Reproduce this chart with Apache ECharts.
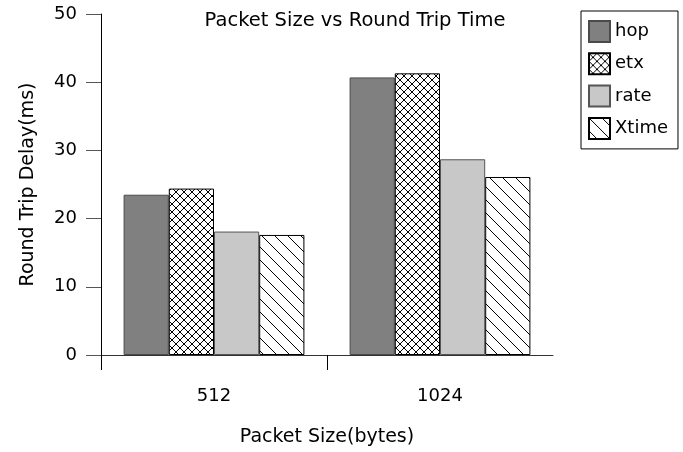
<!DOCTYPE html>
<html>
<head>
<meta charset="utf-8">
<script src="https://cdn.jsdelivr.net/npm/echarts@6/dist/echarts.min.js"></script>
<style>
  html, body { margin: 0; padding: 0; background: #fff; }
  #chart { width: 683px; height: 452px; }
</style>
</head>
<body>
<div id="chart"></div>
<script>
// Packet sizes on the x axis
const packetSizes = ['512', '1024'];

// Round trip delay (ms) per routing metric
const hopValues   = [23.5, 40.7];
const etxValues   = [24.4, 41.3];
const rateValues  = [18.1, 28.7];
const xtimeValues = [17.6, 26.1];

const seriesNames = ['hop', 'etx', 'rate', 'Xtime'];
const yTicks = [0, 10, 20, 30, 40, 50];

const FONT = 'DejaVu Sans';

// Cross-hatch fill tile
function crossHatch(size) {
  const c = document.createElement('canvas');
  c.width = size; c.height = size;
  const g = c.getContext('2d');
  g.fillStyle = '#fff';
  g.fillRect(0, 0, size, size);
  g.strokeStyle = '#000';
  g.lineWidth = 1;
  g.beginPath();
  g.moveTo(0, 0); g.lineTo(size, size);
  g.moveTo(size, 0); g.lineTo(0, size);
  g.stroke();
  return c;
}

// Back-diagonal line fill tile
function backDiagonal(size) {
  const c = document.createElement('canvas');
  c.width = size; c.height = size;
  const g = c.getContext('2d');
  g.fillStyle = '#fff';
  g.fillRect(0, 0, size, size);
  g.strokeStyle = '#000';
  g.lineWidth = 1;
  g.beginPath();
  g.moveTo(-1, -1); g.lineTo(size + 1, size + 1);
  g.stroke();
  return c;
}

const styles = [
  { color: '#808080', borderColor: '#4a4a4a', borderWidth: 1 },
  { color: { image: crossHatch(8), repeat: 'repeat' }, borderColor: '#000', borderWidth: 1 },
  { color: '#c8c8c8', borderColor: '#555', borderWidth: 1 },
  { color: { image: backDiagonal(13), repeat: 'repeat' }, borderColor: '#000', borderWidth: 1 }
];
const dataSets = [hopValues, etxValues, rateValues, xtimeValues];

const chart = echarts.init(document.getElementById('chart'), null, { renderer: 'canvas' });

chart.setOption({
  animation: false,
  backgroundColor: '#fff',
  textStyle: { fontFamily: FONT },
  title: {
    text: 'Packet Size vs Round Trip Time',
    left: 350,
    textAlign: 'center',
    top: 6,
    textStyle: { fontFamily: FONT, fontSize: 19.5, fontWeight: 'normal', color: '#000' }
  },
  legend: {
    data: seriesNames,
    orient: 'vertical',
    left: 581,
    top: 11,
    padding: [9, 10, 9, 7],
    itemWidth: 21,
    itemHeight: 21,
    itemGap: 9.3,
    icon: 'rect',
    backgroundColor: '#fff',
    borderColor: '#000',
    borderWidth: 1,
    borderRadius: 0,
    textStyle: { fontFamily: FONT, fontSize: 18, lineHeight: 21, color: '#000', padding: [0, 0, 0, 0] }
  },
  grid: { left: 101, right: 130, top: 14, bottom: 97, containLabel: false },
  xAxis: [
    {
      type: 'category',
      data: packetSizes,
      name: 'Packet Size(bytes)',
      nameLocation: 'middle',
      nameGap: 73,
      nameTextStyle: { fontFamily: FONT, fontSize: 19, color: '#000' },
      axisLine: { show: true, lineStyle: { color: '#333', width: 1 } },
      axisTick: { show: false },
      axisLabel: { margin: 32, fontFamily: FONT, fontSize: 18, color: '#000' },
      splitLine: { show: false }
    },
    {
      // boundary ticks below the category band
      type: 'value',
      min: 0,
      max: packetSizes.length,
      interval: 1,
      position: 'bottom',
      axisLine: { show: false },
      axisTick: { show: true, length: 15, customValues: [0, 1], lineStyle: { color: '#000' } },
      axisLabel: { show: false },
      splitLine: { show: false }
    }
  ],
  yAxis: {
    type: 'value',
    min: yTicks[0],
    max: yTicks[yTicks.length - 1],
    interval: 10,
    name: 'Round Trip Delay(ms)',
    nameLocation: 'middle',
    nameGap: 63,
    nameTextStyle: { fontFamily: FONT, fontSize: 19, color: '#000' },
    axisLine: { show: true, lineStyle: { color: '#000', width: 1 } },
    axisTick: { show: true, length: 15, lineStyle: { color: '#555' } },
    axisLabel: { margin: 24, fontFamily: FONT, fontSize: 18, color: '#000' },
    splitLine: { show: false }
  },
  series: seriesNames.map((name, i) => ({
    name: name,
    type: 'bar',
    xAxisIndex: 0,
    data: dataSets[i],
    barGap: '0%',
    barCategoryGap: '20%',
    itemStyle: styles[i]
  }))
});
</script>
</body>
</html>
